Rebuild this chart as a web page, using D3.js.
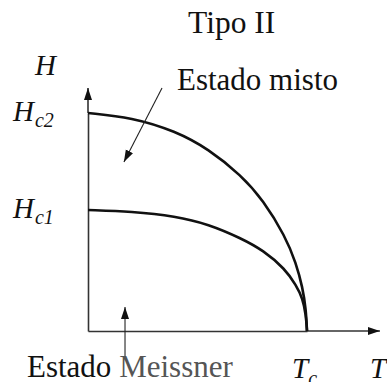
<!DOCTYPE html>
<html>
<head>
<meta charset="utf-8">
<script src="https://cdn.jsdelivr.net/npm/d3@7/dist/d3.min.js"></script>
<style>
  body{margin:0;background:#fff;}
  svg{display:block;font-family:'Liberation Serif';}
  svg text, svg tspan{font-family:'Liberation Serif' !important;}
</style>
</head>
<body>
<svg id="chart"></svg>
<script>
// reduced temperature T/Tc and field H/Hc2
let hc2T=[0,0.2,0.4,0.55,0.7,0.8,0.9,0.95,0.98,0.995,1]
let hc2H=[1,0.98,0.917,0.835,0.714,0.6,0.436,0.312,0.199,0.1,0]
let hc1T=[0,0.2,0.4,0.55,0.7,0.8,0.9,0.95,0.98,0.995,1]
let hc1H=[0.555,0.548,0.527,0.49,0.425,0.37,0.285,0.21,0.15,0.075,0]

let tMax=1.333
let hMax=1.115

let yLabels=[{v:1,main:'H',sub:'c2'},{v:0.555,main:'H',sub:'c1'}]
let xLabels=[{v:1,main:'T',sub:'c'}]

// annotation arrows [T,H] start -> end
let mistoArrow=[[0.338,1.115],[0.164,0.775]]
let meissnerArrow=[[0.169,-0.119],[0.169,0.11]]

let width=387
let height=382
let svg=d3.select('#chart').attr('width',width).attr('height',height)

let xScale=d3.scaleLinear().domain([0,1]).range([88,307])
let yScale=d3.scaleLinear().domain([0,1]).range([331,113])

let defs=svg.append('defs')
defs.append('marker')
    .attr('id','axhead')
    .attr('viewBox','0 0 12 10')
    .attr('refX',12).attr('refY',5)
    .attr('markerWidth',12).attr('markerHeight',10)
    .attr('markerUnits','userSpaceOnUse')
    .attr('orient','auto')
  .append('path').attr('d','M0,1 L12,5 L0,9 Z').attr('fill','#111')

// axes without ticks
let xAxis=d3.axisBottom(xScale).tickValues([]).tickSizeOuter(0)
let yAxis=d3.axisLeft(yScale).tickValues([]).tickSizeOuter(0)
svg.append('g').attr('transform','translate(0,'+yScale(0)+')').call(xAxis)
   .select('.domain').attr('stroke','#333').attr('stroke-width',1.6)
svg.append('g').attr('transform','translate('+xScale(0)+',0)').call(yAxis)
   .select('.domain').attr('stroke','#333').attr('stroke-width',1.6)

// arrow extensions of the axes
svg.append('line')
   .attr('x1',xScale(1)).attr('y1',yScale(0))
   .attr('x2',xScale(tMax)).attr('y2',yScale(0))
   .attr('stroke','#333').attr('stroke-width',1.6)
   .attr('marker-end','url(#axhead)')
svg.append('line')
   .attr('x1',xScale(0)).attr('y1',yScale(1))
   .attr('x2',xScale(0)).attr('y2',yScale(hMax))
   .attr('stroke','#333').attr('stroke-width',1.6)
   .attr('marker-end','url(#axhead)')

let line=d3.line()
   .x(d=>xScale(d[0]))
   .y(d=>yScale(d[1]))
   .curve(d3.curveBasis)

svg.append('path')
   .datum(hc2T.map((t,i)=>[t,hc2H[i]]))
   .attr('d',line).attr('fill','none').attr('stroke','#111').attr('stroke-width',2.6)
svg.append('path')
   .datum(hc1T.map((t,i)=>[t,hc1H[i]]))
   .attr('d',line).attr('fill','none').attr('stroke','#111').attr('stroke-width',2.6)

let straight=d3.line().x(d=>xScale(d[0])).y(d=>yScale(d[1]))
svg.append('path').datum(mistoArrow).attr('d',straight)
   .attr('stroke','#222').attr('stroke-width',1.1).attr('fill','none')
   .attr('marker-end','url(#axhead)')
svg.append('path').datum(meissnerArrow).attr('d',straight)
   .attr('stroke','#222').attr('stroke-width',1.1).attr('fill','none')
   .attr('marker-end','url(#axhead)')

// math labels
let ylab=svg.selectAll('.ylab').data(yLabels).enter().append('text')
   .attr('class','ylab')
   .attr('x',13).attr('y',d=>yScale(d.v)+8)
   .style('font-style','italic').style('font-size','29px').attr('fill','#111')
ylab.append('tspan').text(d=>d.main)
ylab.append('tspan').style('font-size','20px').attr('dx',1).attr('dy',6).text(d=>d.sub)

let xlab=svg.selectAll('.xlab').data(xLabels).enter().append('text')
   .attr('class','xlab')
   .attr('x',d=>xScale(d.v)-15).attr('y',378)
   .style('font-style','italic').style('font-size','29px').attr('fill','#111')
xlab.append('tspan').text(d=>d.main)
xlab.append('tspan').style('font-size','20px').attr('dy',7).text(d=>d.sub)

svg.append('text').attr('x',xScale(tMax)-10).attr('y',378)
   .style('font-style','italic').style('font-size','29px').attr('fill','#111').text('T')
svg.append('text').attr('x',35).attr('y',75)
   .style('font-style','italic').style('font-size','29px').attr('fill','#111').text('H')

// titles and annotations
svg.append('text').attr('x',188).attr('y',33)
   .style('font-size','31.5px').attr('fill','#111').text('Tipo II')
svg.append('text').attr('x',177).attr('y',90)
   .style('font-size','31px').attr('fill','#111').text('Estado misto')
let meis=svg.append('text').attr('x',27).attr('y',377).style('font-size','31px')
meis.append('tspan').attr('fill','#111').text('Estado ')
meis.append('tspan').attr('fill','#555').text('Meissner')
</script>
</body>
</html>
